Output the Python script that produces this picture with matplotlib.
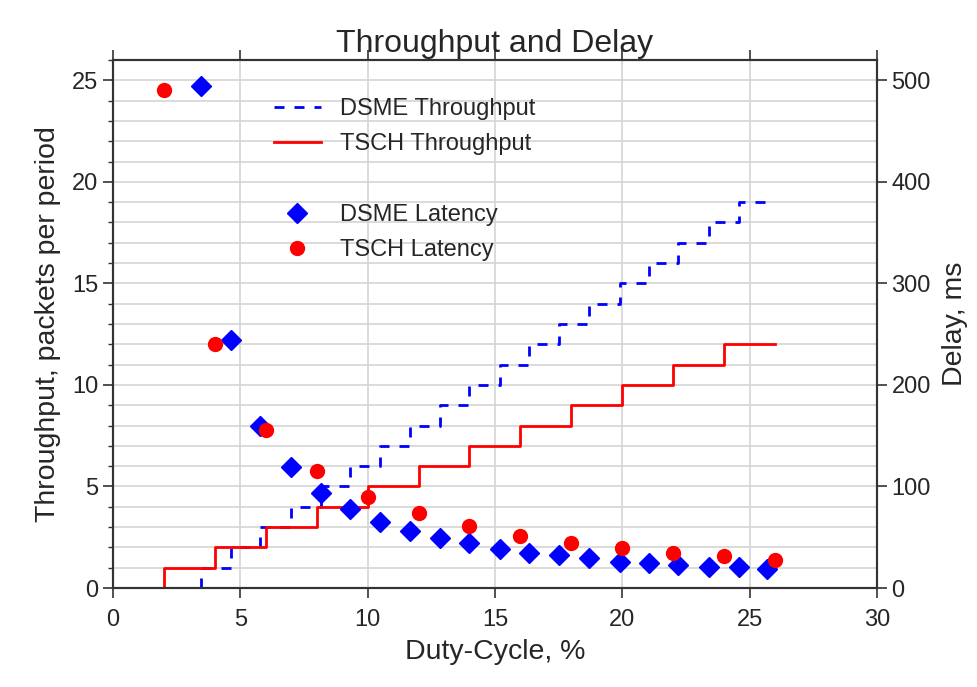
import matplotlib
matplotlib.use("Agg")
import matplotlib.pyplot as plt
from matplotlib.ticker import MultipleLocator

plt.rcParams['font.family'] = ['Liberation Sans', 'DejaVu Sans']

# =========================
# data
# =========================
dsme_dc = [3.46, 4.63, 5.77, 6.99, 8.17, 9.3, 10.48, 11.66, 12.84, 13.98,
           15.2, 16.33, 17.5, 18.7, 19.9, 21.04, 22.2, 23.4, 24.58, 25.7]
dsme_thr = [0, 1, 2, 3, 4, 5, 6, 7, 8, 9, 10, 11, 12, 13, 14, 15, 16, 17, 18, 19]
dsme_lat = [494, 244, 160, 119, 94, 77.5, 65, 56, 49, 44.6,
            38.4, 34.8, 32.5, 29.2, 26, 25, 22.6, 21, 20.3, 18.7]

tsch_dc = [2, 4, 6, 8, 10, 12, 14, 16, 18, 20, 22, 24, 26]
tsch_thr = [0, 1, 2, 3, 4, 5, 6, 7, 8, 9, 10, 11, 12]
tsch_lat = [490, 240, 156, 115, 90, 73.5, 61, 51.5, 44, 39.7, 34.8, 31.5, 27.6]

txt = '#262626'
spine_c = '#333333'

fig = plt.figure(figsize=(9.78, 6.87), dpi=100)
ax = fig.add_axes([0.1155, 0.1441, 0.7812, 0.7686])
ax2 = ax.twinx()

# throughput (left)
l1, = ax.plot(dsme_dc, dsme_thr, drawstyle='steps-pre', color='#0000ff',
              lw=2, ls='--', dashes=(3.6, 3.6), label='DSME Throughput')
l2, = ax.plot(tsch_dc, tsch_thr, drawstyle='steps-pre', color='#ff0000',
              lw=2, label='TSCH Throughput')

# latency (right)
m1, = ax2.plot(dsme_dc, dsme_lat, ls='none', marker='D', ms=10,
               color='#0000ff', mec='#0000ff', label='DSME Latency')
m2, = ax2.plot(tsch_dc, tsch_lat, ls='none', marker='o', ms=10,
               color='#ff0000', mec='#ff0000', label='TSCH Latency')

ax.set_xlim(0, 30)
ax.set_ylim(0, 26)
ax2.set_ylim(0, 520)

ax.xaxis.set_major_locator(MultipleLocator(5))
ax.yaxis.set_major_locator(MultipleLocator(5))
ax.yaxis.set_minor_locator(MultipleLocator(1))
ax2.yaxis.set_major_locator(MultipleLocator(100))

ax.grid(True, which='major', color='#d4d4d4', lw=1.2)
ax.grid(True, which='minor', axis='y', color='#d4d4d4', lw=1.2)
ax.set_axisbelow(True)

ax.tick_params(axis='x', which='major', direction='out', top=True,
               length=7, width=1.2, color=spine_c, labelsize=17,
               labelcolor=txt, pad=8)
ax.tick_params(axis='y', which='major', direction='out', length=7,
               width=1.2, color=spine_c, labelsize=17, labelcolor=txt)
ax.tick_params(axis='y', which='minor', direction='out', length=3.5,
               width=1.0, color=spine_c)
ax2.tick_params(axis='y', which='major', direction='out', length=7,
                width=1.2, color=spine_c, labelsize=17, labelcolor=txt)

for a in (ax, ax2):
    for s in a.spines.values():
        s.set_color(spine_c)
        s.set_linewidth(1.5)

ax.set_xlabel('Duty-Cycle, %', fontsize=20.5, color=txt, labelpad=6)
ax.set_ylabel('Throughput, packets per period', fontsize=20.5, color=txt,
              labelpad=8)
ax2.set_ylabel('Delay, ms', fontsize=20.5, color=txt, labelpad=8)
ax.set_title('Throughput and Delay', fontsize=23, color=txt)

leg1 = ax2.legend(handles=[l1, l2], loc='upper left',
                  bbox_to_anchor=(0.198, 0.945), borderaxespad=0,
                  frameon=False, fontsize=17, labelcolor=txt,
                  labelspacing=0.55)
ax2.add_artist(leg1)
ax2.legend(handles=[m1, m2], loc='upper left',
           bbox_to_anchor=(0.198, 0.7445), borderaxespad=0,
           frameon=False, fontsize=17, labelcolor=txt, numpoints=1,
           labelspacing=0.55)

fig.savefig('out.png', dpi=100)
